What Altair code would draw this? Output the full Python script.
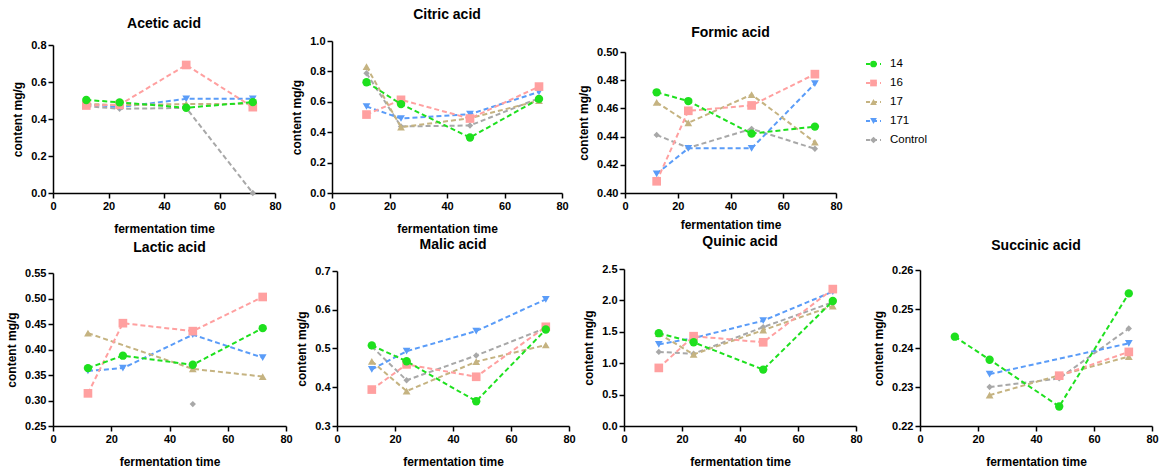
import altair as alt
import pandas as pd

times = [12, 24, 48, 72]
series = ["14", "16", "17", "171", "Control"]
colors = ["#1EE01E", "#FFA0A0", "#C5B381", "#5A9CF8", "#A8A8A8"]
shapes = ["circle", "square", "triangle-up", "triangle-down", "diamond"]
sizes = [70, 75, 60, 60, 40]

acetic = {
    "14": [0.503, 0.490, 0.461, 0.491],
    "16": [0.473, 0.477, 0.692, 0.464],
    "17": [0.482, 0.475, 0.481, 0.482],
    "171": [0.480, 0.464, 0.509, 0.509],
    "Control": [0.470, 0.455, 0.460, 0.0],
}
citric = {
    "14": [0.729, 0.585, 0.365, 0.619],
    "16": [0.516, 0.613, 0.490, 0.700],
    "17": [0.831, 0.433, 0.492, 0.608],
    "171": [0.569, 0.490, 0.519, 0.665],
    "Control": [0.788, 0.438, 0.444, 0.624],
}
formic = {
    "14": [0.4714, 0.4652, 0.4421, 0.4471],
    "16": [0.4083, 0.4583, 0.4621, 0.4843],
    "17": [0.4643, 0.4498, 0.4698, 0.4360],
    "171": [0.4136, 0.4317, 0.4317, 0.4776],
    "Control": [0.4412, 0.4320, 0.4455, 0.4314],
}
lactic = {
    "14": [0.3635, 0.3879, 0.3700, 0.4419],
    "16": [0.3140, 0.4516, 0.4360, 0.5030],
    "17": [0.4320, None, 0.3620, 0.3470],
    "171": [0.3580, 0.3635, 0.4290, 0.3840],
    "Control": [None, None, 0.2930, None],
}
malic = {
    "14": [0.508, 0.467, 0.364, 0.549],
    "16": [0.394, 0.459, 0.427, 0.556],
    "17": [0.467, 0.390, 0.466, 0.509],
    "171": [0.446, 0.493, 0.545, 0.627],
    "Control": [0.505, 0.418, 0.482, 0.553],
}
quinic = {
    "14": [1.478, 1.333, 0.898, 1.990],
    "16": [0.925, 1.430, 1.333, 2.180],
    "17": [1.470, 1.140, 1.527, 1.910],
    "171": [1.300, 1.400, 1.677, 2.140],
    "Control": [1.180, 1.150, 1.575, 1.970],
}
succinic = {
    "14": [0.2429, 0.2370, 0.2250, 0.2540],
    "16": [None, None, 0.2329, 0.2390],
    "17": [None, 0.2279, 0.2330, 0.2378],
    "171": [None, 0.2333, None, 0.2412],
    "Control": [None, 0.2300, 0.2322, 0.2450],
}

FONT = "Liberation Sans"


def panel(name, data, ydomain, yticks, fmt, w, h, top, toff, xtp=12):
    xenc = alt.X("time:Q", scale=alt.Scale(domain=[0, 80], nice=False),
                 axis=alt.Axis(values=[0, 20, 40, 60, 80], title="fermentation time", titlePadding=xtp))
    yenc = alt.Y("value:Q", scale=alt.Scale(domain=ydomain, nice=False, zero=False, range=[h, top]),
                 axis=alt.Axis(values=yticks, format=fmt, title="content mg/g"))
    cenc = alt.Color("group:N", scale=alt.Scale(domain=series, range=colors), legend=None)
    senc = alt.Shape("group:N", scale=alt.Scale(domain=series, range=shapes), legend=None)
    layers = []
    for s, sz in reversed(list(zip(series, sizes))):
        rows = [{"time": t, "value": v, "group": s}
                for t, v in zip(times, data[s]) if v is not None]
        df = pd.DataFrame(rows)
        base = alt.Chart(df)
        layers.append(base.mark_line(strokeDash=[5, 3], strokeWidth=2).encode(xenc, yenc, cenc))
        layers.append(base.mark_point(filled=True, size=sz, opacity=1).encode(xenc, yenc, cenc, senc))
    return alt.layer(*layers).properties(
        width=w, height=h,
        title=alt.TitleParams(name, offset=toff))


p1 = panel("Acetic acid", acetic, [0, 0.8], [0, 0.2, 0.4, 0.6, 0.8], ".1f", 222, 153, 5, 8)
p2 = panel("Citric acid", citric, [0, 1.0], [0, 0.2, 0.4, 0.6, 0.8, 1.0], ".1f", 230, 153, 1, 13)
p3 = panel("Formic acid", formic, [0.40, 0.50], [0.40, 0.42, 0.44, 0.46, 0.48, 0.50], ".2f", 211, 153, 12, 0, xtp=8)
p4 = panel("Lactic acid", lactic, [0.25, 0.55], [0.25, 0.30, 0.35, 0.40, 0.45, 0.50, 0.55], ".2f", 233, 157, 4, 12)
p5 = panel("Malic acid", malic, [0.3, 0.7], [0.3, 0.4, 0.5, 0.6, 0.7], ".1f", 232, 157, 2, 13)
p6 = panel("Quinic acid", quinic, [0, 2.5], [0, 0.5, 1.0, 1.5, 2.0, 2.5], ".1f", 232, 157, 0, 14)
p7 = panel("Succinic acid", succinic, [0.22, 0.26], [0.22, 0.23, 0.24, 0.25, 0.26], ".2f", 232, 157, 1, 11)

# custom legend
leg_df = pd.DataFrame({"group": series, "idx": list(range(len(series)))})
ly = alt.Y("idx:Q", scale=alt.Scale(domain=[-1.263, 6.79], reverse=True), axis=None)
lc = alt.Color("group:N", scale=alt.Scale(domain=series, range=colors), legend=None)
ls = alt.Shape("group:N", scale=alt.Scale(domain=series, range=shapes), legend=None)
lxs = alt.Scale(domain=[0, 100])
lbase = alt.Chart(leg_df)
leg_line = lbase.mark_rule(strokeDash=[4, 3], strokeWidth=2).encode(
    x=alt.datum(15, scale=lxs, axis=None), x2=alt.datum(30), y=ly, color=lc)
leg_pt = lbase.mark_point(filled=True, size=45, opacity=1).encode(
    x=alt.datum(22.5, scale=lxs, axis=None), y=ly, color=lc, shape=ls)
leg_txt = lbase.mark_text(align="left", baseline="middle", fontSize=11.5, font=FONT, color="black").encode(
    x=alt.datum(39, scale=lxs, axis=None), y=ly, text="group:N")
legend = alt.layer(leg_line, leg_pt, leg_txt).properties(width=100, height=153)

top = alt.hconcat(p1, p2, p3, legend, spacing=8)
bottom = alt.hconcat(alt.hconcat(p4, p5, spacing=2), alt.hconcat(p6, p7, spacing=9), spacing=6)

chart = alt.vconcat(top, bottom, spacing=1).properties(
    padding={"left": 5, "top": 8, "right": 0, "bottom": 0}
).configure_view(stroke=None).configure_axis(
    grid=False, domainColor="black", domainWidth=1.5, tickColor="black", tickWidth=1.5,
    tickSize=5, labelFont=FONT, labelFontSize=11, labelFontWeight="bold", labelColor="black",
    titleFont=FONT, titleFontSize=12, titleFontWeight="bold", titleColor="black",
    labelFlush=False, titlePadding=6
).configure_title(
    font=FONT, fontSize=14, fontWeight="bold", color="black", anchor="middle")

chart.save("out.html", embed_options={"renderer": "svg", "actions": False})
